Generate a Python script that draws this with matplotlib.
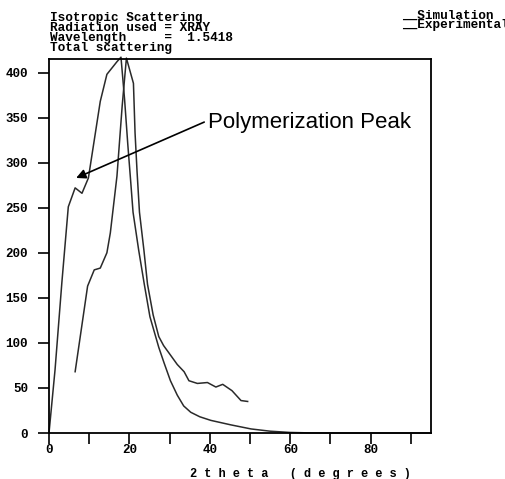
import numpy as np
import matplotlib
matplotlib.use("Agg")
import matplotlib.pyplot as plt

# scattering curves (2theta in degrees, intensity)
sim_x = [0, 1.5, 3.2, 4.8, 6.5, 8.2, 9.8, 12.75, 14.4, 16.9, 17.9, 18.8, 19.6,
         20.3, 20.9, 22.3, 23.7, 25.1, 27.3, 28.6, 30.2, 31.9, 33.5, 35.25,
         37.5, 40.25, 45.25, 50.25, 55, 60, 65, 70, 95]
sim_y = [0, 70, 167, 251, 272, 266, 283, 368, 398, 412, 417, 370, 320,
         280, 245, 203, 165, 129, 95, 78, 58, 42, 30, 23,
         18, 14, 9, 4.5, 2, 0.6, 0.1, 0, 0]

exp_x = [6.5, 9.6, 11.25, 12.75, 14.4, 15.25, 16.9, 18.2, 19.25, 21.0, 21.4,
         21.9, 22.5, 23.6, 24.5, 25.9, 27.3, 28.5, 29.8, 31.9, 33.6, 34.8,
         36.9, 39.4, 41.5, 43.2, 45.5, 47.75, 49.4]
exp_y = [68, 163, 181, 183, 200, 222, 285, 363, 416, 388, 333,
         290, 245, 203, 165, 131, 107, 97, 89, 76, 68, 58,
         55, 56, 51, 54, 47, 36, 35]

xticks_major = [0, 20, 40, 60, 80]
xticks_minor = [10, 30, 50, 70, 90]
yticks = [0, 50, 100, 150, 200, 250, 300, 350, 400]

header = ["Isotropic Scattering",
          "Radiation used = XRAY",
          "Wavelength     =  1.5418",
          "Total scattering"]
legend = ["__Simulation", "__Experimental"]

W, H = 506, 479
mono = dict(family="Liberation Mono", weight="bold")

fig = plt.figure(figsize=(W / 100, H / 100), dpi=100)
ax = fig.add_axes([49 / W, 1 - 433 / H, (431 - 49) / W, (433 - 59) / H])

ax.plot(sim_x, sim_y, color="#2a2a2a", lw=1.1, clip_on=False)
ax.plot(exp_x, exp_y, color="#2a2a2a", lw=1.1, clip_on=False)

ax.set_xlim(0, 95)
ax.set_ylim(0, 415)
ax.set_xticks(xticks_major)
ax.set_xticks(xticks_minor, minor=True)
ax.set_yticks(yticks)
ax.tick_params(axis="both", which="both", direction="out", length=8,
               width=1.2, color="black")
ax.tick_params(axis="x", pad=0)
ax.tick_params(axis="y", pad=7)
for lab in ax.get_xticklabels() + ax.get_yticklabels():
    lab.set_fontfamily("Liberation Mono")
    lab.set_fontweight("bold")
    lab.set_fontsize(9)
for s in ax.spines.values():
    s.set_linewidth(1.3)

# arrow pointing to the shoulder
ax.annotate("", xy=(6.75, 283), xytext=(38.6, 345),
            arrowprops=dict(arrowstyle="-|>", color="black", lw=1.2,
                            mutation_scale=14, shrinkA=0, shrinkB=0))
fig.text(208 / W, 1 - 128 / H, "Polymerization Peak", family="Liberation Sans",
         fontsize=16, va="baseline", ha="left")

fig.text(50 / W, 1 - 12 / H, "\n".join(header), fontsize=9.2,
         va="top", ha="left", linespacing=0.775, **mono)
fig.text(402 / W, 1 - 9.5 / H, "\n".join(legend), fontsize=9.2,
         va="top", ha="left", linespacing=0.76, **mono)

fig.text(300 / W, 1 - 476.5 / H, "2 t h e t a   ( d e g r e e s )",
         fontsize=8.6, va="baseline", ha="center", **mono)

fig.savefig("out.png", dpi=100)
